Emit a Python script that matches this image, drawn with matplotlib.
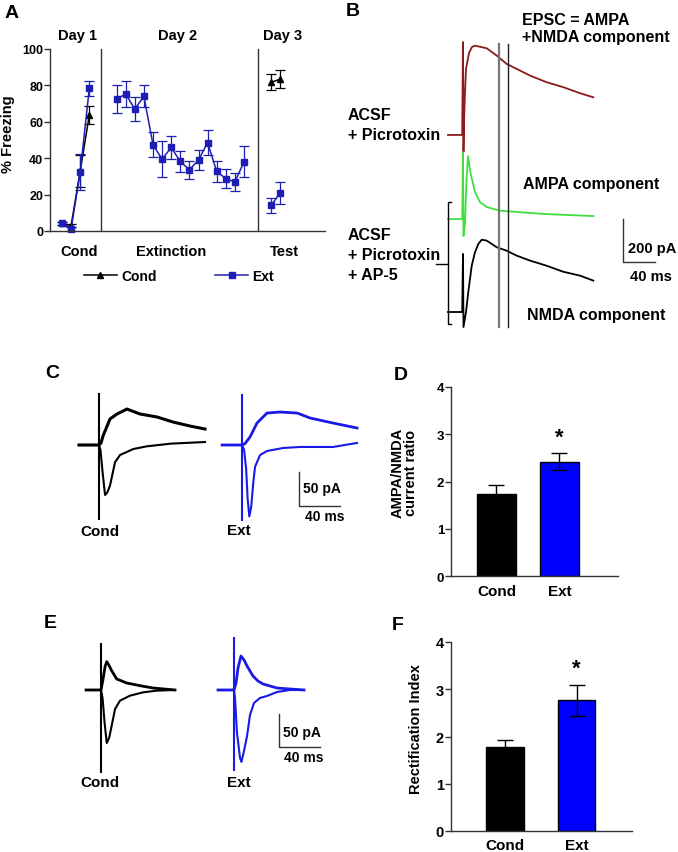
import numpy as np
import matplotlib
matplotlib.use("Agg")
import matplotlib.pyplot as plt
from matplotlib.lines import Line2D

plt.rcParams['font.family'] = ['Liberation Sans', 'DejaVu Sans']
plt.rcParams['font.weight'] = 'bold'
plt.rcParams['axes.labelweight'] = 'bold'

W, H = 678, 853

# ---- panel A: % freezing ----
cond_x = [0, 1, 2, 3]
ext_x = list(range(6, 21))
test_x = [23, 24]
ext_cond = [4.2, 1.0, 32.5, 78.3]
ext_cond_err = [1, 1, 10, 4]
cnd_cond = [4.2, 3.0, 33.0, 63.7]
cnd_cond_err = [1, 1, 9, 5]
ext_ext = [72.5, 75.3, 67.0, 74.0, 47.4, 39.4, 45.9, 38.2, 33.6, 39.0, 48.6, 32.7, 28.8, 27.0, 38.0]
ext_ext_err = [7.5, 7, 6.5, 6, 7, 10, 6.5, 5.7, 4.8, 5.6, 7, 6, 5, 4.8, 8.6]
cnd_test = [81.7, 83.5]
cnd_test_err = [4.5, 5]
ext_test = [14.1, 21.1]
ext_test_err = [4, 6]
day_bounds = [4.3, 21.5]

# ---- panel D / F bars ----
groups = ['Cond', 'Ext']
ratio = [1.74, 2.42]
ratio_err = [0.19, 0.18]
rect = [1.78, 2.77]
rect_err = [0.15, 0.33]

# ---- panel B traces (ms, pA) ----
b_t_red = [-18.75, -1, 0, 0.6, 1.25, 2.5, 3.75, 7.5, 11.25, 15, 29.6, 42.1, 54.6, 67.1, 83.75, 104.6, 125.4, 146.25, 162.9]
b_red = [0, 0, 432, -79, 60, 200, 307, 381, 409, 415, 403, 369, 330, 307, 276, 245, 222, 194, 175]
b_t_green = [-18.75, -1, 0, 0.6, 2.5, 4, 6.25, 9.2, 15, 21.25, 29.6, 46.25, 67.1, 104.6, 162.9]
b_green = [0, 0, 311, -79, -20, 150, 293, 217, 126, 79, 56, 39, 33, 23, 14]
b_t_black = [-18.75, -1, 0, 0.6, 3.75, 6.6, 10.9, 15, 19.1, 23.4, 29.6, 42.1, 54.6, 67.1, 83.75, 104.6, 125.4, 146.25, 162.9]
b_black = [0, 0, 270, -70, 0, 92, 215, 278, 316, 336, 332, 301, 285, 262, 239, 215, 187, 169, 146]
b_offsets = [823, 432, 0]
b_marks = [45, 56.25]

# ---- panel C traces (ms, pA) ----
c_t_cond_up = [-19.5, -1, 0, 2, 3.9, 10.7, 17.6, 27.3, 40, 56.6, 72.2, 88.8, 103.5]
c_cond_up = [0, 0, 0, 3, 13.2, 38.2, 45.6, 52.9, 45.6, 41.2, 33.8, 27.9, 23.5]
c_t_cond_low = [-19.5, 0, 1.5, 3.5, 5.9, 8, 10.7, 15.6, 20.5, 33.5, 46.5, 70, 103.5]
c_cond_low = [0, 0, -8, -40, -73.5, -70, -60, -25.5, -14.7, -5.9, -2, 2, 4.4]
c_t_ext_up = [-19.5, -1, 0, 2.9, 7.8, 14.6, 24.4, 37.1, 53.7, 66.4, 88.8, 112.2]
c_ext_up = [0, 0, 0, 2, 11.8, 32.3, 47, 48.5, 47, 39.7, 32.3, 25]
c_t_ext_low = [-19.5, 0, 2, 4, 5.5, 7.1, 9, 11, 12.7, 17.6, 24.4, 40, 56.6, 88.8, 112.2]
c_ext_low = [0, 0, -7, -35, -80, -105, -90, -55, -32, -14.7, -8.8, -4.4, -2.9, -2.9, 3]
c_stim_cond = [-109, 75]
c_stim_ext = [-110, 73.5]
c_ext_shift = 139.6

# ---- panel E traces (ms, pA) ----
e_t_cond_up = [-14.6, -1, 0, 2, 4, 5.6, 7.5, 10.4, 15.3, 25.1, 38.1, 50.8, 72.2]
e_cond_up = [0, 0, 0, 16.7, 36, 42.9, 38, 29.2, 16.7, 10.6, 6.5, 3, 0]
e_t_cond_low = [-14.6, 0, 1.5, 3.5, 5.6, 8, 10.4, 13.7, 18.5, 28.3, 41.3, 54.4, 72.2]
e_cond_low = [0, 0, -12, -50, -80.3, -72, -54, -28.8, -16.2, -8.6, -3.5, -1, 0]
e_t_ext_up = [-15.6, -1, 0, 2, 3.9, 6.8, 9.8, 12.7, 18.5, 23.4, 28.3, 42, 54.7, 68.3]
e_ext_up = [0, 0, 0, 10.6, 33.3, 51.5, 45.5, 36.4, 21.2, 13.6, 9.1, 3, 1.5, 0]
e_t_ext_low = [-15.6, 0, 1, 2.9, 5.9, 7.3, 9.8, 12.7, 15.6, 19.5, 25.4, 32.2, 42, 54.7, 68.3]
e_ext_low = [0, 0, -12, -65, -103, -109, -92, -70, -38, -19.7, -12, -9.1, -3, 0, 0]
e_stim_cond = [-124, 69.7]
e_stim_ext = [-121, 78.8]
e_ext_shift = 129.8

BLUE_A = '#1e1eb4'
BLUE_T = '#1a1ae6'
BLUE_BAR = '#0000ff'
RED = '#8b1a1a'
GREEN = '#3ee03e'
AX = '#333333'

fig = plt.figure(figsize=(W / 100, H / 100), dpi=100)


def px_axes(x0, y0, x1, y1):
    return fig.add_axes([x0 / W, 1 - y1 / H, (x1 - x0) / W, (y1 - y0) / H])


def style_axes(ax, size):
    for s in ['top', 'right']:
        ax.spines[s].set_visible(False)
    for s in ['left', 'bottom']:
        ax.spines[s].set_color(AX)
        ax.spines[s].set_linewidth(1.0)
    ax.tick_params(axis='y', length=4, width=1, color=AX, labelsize=size, pad=1)
    ax.tick_params(axis='x', length=0, labelsize=size)


# ---------- A ----------
ax = px_axes(50, 50, 325, 232)
style_axes(ax, 9)
ax.set_xlim(-1.32, 28.9)
ax.set_ylim(0, 100)
ax.set_yticks([0, 20, 40, 60, 80, 100])
ax.set_xticks([])
for b in day_bounds:
    ax.plot([b, b], [0, 100], color=AX, lw=1)
kw = dict(capsize=3.5, elinewidth=0.9, capthick=0.9, lw=1.1, ms=5, clip_on=False)
ax.errorbar(cond_x, cnd_cond, yerr=cnd_cond_err, color='black', marker='^', **kw)
ax.errorbar(test_x, cnd_test, yerr=cnd_test_err, color='black', marker='^', **kw)
ax.errorbar(cond_x, ext_cond, yerr=ext_cond_err, color=BLUE_A, marker='s', **kw)
ax.errorbar(ext_x, ext_ext, yerr=ext_ext_err, color=BLUE_A, marker='s', **kw)
ax.errorbar(test_x, ext_test, yerr=ext_test_err, color=BLUE_A, marker='s', **kw)
ax.set_ylabel('% Freezing', fontsize=10.5)
ax.yaxis.set_label_coords(-0.127, 0.54)
handles = [Line2D([], [], color='black', marker='^', ms=5, lw=1.1),
           Line2D([], [], color=BLUE_A, marker='s', ms=5, lw=1.1)]
fig.legend(handles, groups, loc='center', bbox_to_anchor=(179 / W, 1 - 277 / H),
           ncol=2, frameon=False, handlelength=2.4, columnspacing=4.2,
           handletextpad=0.3, fontsize=10)

# ---------- D ----------
ax = px_axes(451, 388, 618, 577)
style_axes(ax, 9.5)
ax.bar([0, 1], ratio, width=0.62, color=['black', BLUE_BAR], edgecolor='black', lw=1)
ax.errorbar([0, 1], ratio, yerr=ratio_err, fmt='none', ecolor='black', capsize=6, elinewidth=1, capthick=1)
ax.set_xlim(-0.722, 1.929)
ax.set_ylim(0, 4)
ax.set_yticks([0, 1, 2, 3, 4])
ax.set_xticks([0, 1])
ax.set_xticklabels(groups, fontsize=11)
ax.tick_params(axis='x', pad=6)
ax.set_ylabel('AMPA/NMDA\ncurrent ratio', fontsize=10.5, linespacing=0.95)
ax.yaxis.set_label_coords(-0.198, 0.55)
ax.text(1, ratio[1] + ratio_err[1] + 0.12, '*', ha='center', va='bottom', fontsize=16)

# ---------- F ----------
ax = px_axes(451, 643, 632, 832)
style_axes(ax, 10.5)
ax.bar([0, 1], rect, width=0.53, color=['black', BLUE_BAR], edgecolor='black', lw=1)
ax.errorbar([0, 1], rect, yerr=rect_err, fmt='none', ecolor='black', capsize=6, elinewidth=1, capthick=1)
ax.set_xlim(-0.755, 1.776)
ax.set_ylim(0, 4)
ax.set_yticks([0, 1, 2, 3, 4])
ax.set_xticks([0, 1])
ax.set_xticklabels(groups, fontsize=11)
ax.tick_params(axis='x', pad=5)
ax.set_ylabel('Rectification Index', fontsize=10.5)
ax.yaxis.set_label_coords(-0.155, 0.545)
ax.text(1, rect[1] + rect_err[1] + 0.12, '*', ha='center', va='bottom', fontsize=16)

# ---------- B ----------
ax = px_axes(420, 40, 678, 330)
ax.axis('off')
ax.set_xlim(-53.75, 268.75)
ax.set_ylim(-79, 1269)
for t, v, off, c in [(b_t_red, b_red, b_offsets[0], RED),
                     (b_t_green, b_green, b_offsets[1], GREEN),
                     (b_t_black, b_black, b_offsets[2], 'black')]:
    ax.plot(t, np.array(v) + off, color=c, lw=1.3)
ax.plot([b_marks[0]] * 2, [-70, 1246], color='#777777', lw=1.6)
ax.plot([b_marks[1]] * 2, [-70, 1246], color='#222222', lw=1.0)
ax.plot([200, 200, 240], [432, 232, 232], color=AX, lw=1)
ax.plot([-15.4, -18.4, -18.4, -15.4], [511, 511, -56, -56], color='black', lw=1)
ax.plot([-33.75, -18.4], [223, 223], color='black', lw=1)

# ---------- C ----------
ax = px_axes(70, 385, 365, 530)
ax.axis('off')
ax.set_xlim(-28.3, 259.6)
ax.set_ylim(-123.5, 89.7)
ax.plot([0, 0], c_stim_cond, color='black', lw=1.5)
ax.plot(c_t_cond_up, c_cond_up, color='black', lw=2.2)
ax.plot(c_t_cond_low, c_cond_low, color='black', lw=1.5)
ax.plot([c_ext_shift] * 2, c_stim_ext, color=BLUE_T, lw=1.5)
ax.plot(np.array(c_t_ext_up) + c_ext_shift, c_ext_up, color=BLUE_T, lw=2.0)
ax.plot(np.array(c_t_ext_low) + c_ext_shift, c_ext_low, color=BLUE_T, lw=1.5)
ax.plot([195.2, 195.2, 235.2], [-39.7, -89.7, -89.7], color=AX, lw=1)

# ---------- E ----------
ax = px_axes(75, 635, 330, 780)
ax.axis('off')
ax.set_xlim(-25.4, 223.5)
ax.set_ylim(-134.8, 84.8)
ax.plot([0, 0], e_stim_cond, color='black', lw=1.5)
ax.plot(e_t_cond_up, e_cond_up, color='black', lw=2.0)
ax.plot(e_t_cond_low, e_cond_low, color='black', lw=1.5)
ax.plot([e_ext_shift] * 2, e_stim_ext, color=BLUE_T, lw=1.5)
ax.plot(np.array(e_t_ext_up) + e_ext_shift, e_ext_up, color=BLUE_T, lw=2.0)
ax.plot(np.array(e_t_ext_low) + e_ext_shift, e_ext_low, color=BLUE_T, lw=1.5)
ax.plot([173.7, 173.7, 213.7], [-36.4, -86.4, -86.4], color=AX, lw=1)

# ---------- text overlay ----------
ov = fig.add_axes([0, 0, 1, 1], zorder=-1)
ov.set_xlim(0, W)
ov.set_ylim(H, 0)
ov.axis('off')


def txt(x, y, s, size, ha='left'):
    ov.text(x, y, s, fontsize=size, ha=ha, va='center')


for letter, x, y in [('A', 12, 13), ('B', 353, 11), ('C', 52, 373),
                     ('D', 401, 375), ('E', 50, 624), ('F', 398, 626)]:
    txt(x, y, letter, 14, 'center')

txt(78, 36, 'Day 1', 10.5, 'center')
txt(178, 36, 'Day 2', 10.5, 'center')
txt(283, 36, 'Day 3', 10.5, 'center')
txt(79, 252, 'Cond', 10.5, 'center')
txt(171, 252, 'Extinction', 10.5, 'center')
txt(284, 252, 'Test', 10.5, 'center')

txt(522, 20, 'EPSC = AMPA', 11.5)
txt(522, 37.5, '+NMDA component', 11.5)
txt(348, 115, 'ACSF', 11.5)
txt(348, 135, '+ Picrotoxin', 11.5)
txt(523, 184, 'AMPA component', 11.5)
txt(348, 235, 'ACSF', 11.5)
txt(348, 255, '+ Picrotoxin', 11.5)
txt(348, 275, '+ AP-5', 11.5)
txt(527, 315, 'NMDA component', 11.5)
txt(628, 249, '200 pA', 10.5)
txt(630, 277, '40 ms', 10.5)

txt(303, 489, '50 pA', 10)
txt(305, 517, '40 ms', 10)
txt(100, 532, 'Cond', 11, 'center')
txt(239, 531, 'Ext', 11, 'center')

txt(283, 733, '50 pA', 10)
txt(284, 758, '40 ms', 10)
txt(100, 783, 'Cond', 11, 'center')
txt(239, 783, 'Ext', 11, 'center')

plt.savefig('out.png', dpi=100)
